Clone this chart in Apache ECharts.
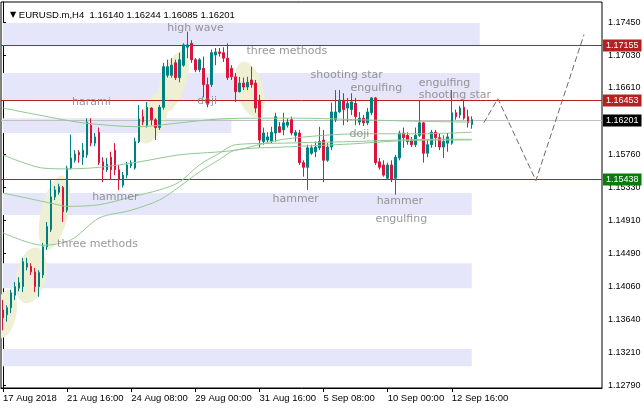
<!DOCTYPE html>
<html><head><meta charset="utf-8">
<script src="https://cdn.jsdelivr.net/npm/echarts@6/dist/echarts.min.js"></script>
<style>html,body{margin:0;padding:0;background:#fff}#c{width:644px;height:409px}</style>
</head><body><div id="c"></div>
<script>
// ---------- data ----------
const symbolName = 'EURUSD.m,H4';
const lastOHLC = ['1.16140', '1.16244', '1.16085', '1.16201'];
// [open, close, low, high] per H4 bar
const candles = [
[1.1376,1.1366,1.1350,1.1389],[1.1370,1.1379,1.1361,1.1382],[1.1379,1.1398,1.1372,1.1402],[1.1395,1.1406,1.1389,1.1412],
[1.1404,1.1411,1.1400,1.1418],[1.1406,1.1438,1.1399,1.1443],[1.1431,1.1436,1.1427,1.1443],[1.1432,1.1425,1.1421,1.1436],
[1.1425,1.1406,1.1399,1.1430],[1.1406,1.1424,1.1393,1.1427],[1.1421,1.1457,1.1417,1.1462],[1.1457,1.1483,1.1453,1.1489],
[1.1479,1.1521,1.1476,1.1543],[1.1521,1.1530,1.1517,1.1535],[1.1527,1.1534,1.1524,1.1538],[1.1533,1.1502,1.1489,1.1535],
[1.1504,1.1558,1.1501,1.1561],[1.1558,1.1571,1.1556,1.1601],[1.1568,1.1576,1.1565,1.1581],[1.1578,1.1575,1.1565,1.1581],
[1.1572,1.1581,1.1562,1.1590],[1.1575,1.1617,1.1571,1.1622],[1.1613,1.1590,1.1586,1.1622],[1.1590,1.1598,1.1586,1.1603],
[1.1604,1.1565,1.1562,1.1610],[1.1566,1.1556,1.1540,1.1572],[1.1556,1.1563,1.1553,1.1571],[1.1572,1.1556,1.1543,1.1579],
[1.1581,1.1556,1.1549,1.1590],[1.1556,1.1543,1.1530,1.1562],[1.1536,1.1549,1.1533,1.1553],[1.1549,1.1562,1.1545,1.1566],
[1.1561,1.1565,1.1558,1.1568],[1.1558,1.1592,1.1556,1.1597],[1.1592,1.1621,1.1590,1.1639],[1.1624,1.1617,1.1613,1.1633],
[1.1613,1.1636,1.1610,1.1643],[1.1635,1.1620,1.1613,1.1636],[1.1620,1.1610,1.1594,1.1622],[1.1610,1.1636,1.1607,1.1639],
[1.1636,1.1688,1.1633,1.1693],[1.1677,1.1688,1.1674,1.1697],[1.1677,1.1690,1.1674,1.1699],[1.1693,1.1674,1.1671,1.1697],
[1.1674,1.1697,1.1668,1.1706],[1.1690,1.1716,1.1688,1.1718],[1.1713,1.1716,1.1699,1.1733],[1.1718,1.1697,1.1693,1.1722],
[1.1697,1.1684,1.1681,1.1699],[1.1684,1.1697,1.1681,1.1699],[1.1686,1.1665,1.1649,1.1701],[1.1665,1.1640,1.1636,1.1674],
[1.1665,1.1706,1.1662,1.1710],[1.1703,1.1707,1.1690,1.1712],[1.1707,1.1705,1.1701,1.1712],[1.1706,1.1699,1.1694,1.1713],
[1.1699,1.1674,1.1671,1.1718],[1.1686,1.1675,1.1671,1.1690],[1.1675,1.1656,1.1643,1.1680],[1.1656,1.1667,1.1655,1.1675],
[1.1667,1.1662,1.1658,1.1674],[1.1662,1.1668,1.1658,1.1675],[1.1671,1.1665,1.1661,1.1688],[1.1667,1.1635,1.1629,1.1671],
[1.1645,1.1594,1.1584,1.1652],[1.1592,1.1603,1.1588,1.1610],[1.1594,1.1598,1.1590,1.1604],[1.1592,1.1604,1.1590,1.1611],
[1.1603,1.1624,1.1592,1.1629],[1.1611,1.1604,1.1603,1.1617],[1.1607,1.1616,1.1600,1.1629],[1.1613,1.1617,1.1610,1.1622],
[1.1620,1.1603,1.1600,1.1624],[1.1600,1.1604,1.1592,1.1607],[1.1603,1.1565,1.1562,1.1607],[1.1565,1.1559,1.1547,1.1568],
[1.1559,1.1584,1.1530,1.1588],[1.1577,1.1584,1.1575,1.1588],[1.1579,1.1585,1.1572,1.1592],[1.1584,1.1592,1.1581,1.1611],
[1.1594,1.1568,1.1540,1.1607],[1.1568,1.1585,1.1566,1.1590],[1.1585,1.1630,1.1581,1.1642],[1.1620,1.1630,1.1617,1.1658],
[1.1630,1.1645,1.1629,1.1658],[1.1645,1.1633,1.1613,1.1654],[1.1635,1.1641,1.1617,1.1648],[1.1633,1.1643,1.1626,1.1654],
[1.1641,1.1624,1.1613,1.1648],[1.1617,1.1622,1.1613,1.1630],[1.1622,1.1616,1.1612,1.1626],[1.1616,1.1630,1.1613,1.1635],
[1.1629,1.1648,1.1626,1.1649],[1.1648,1.1565,1.1562,1.1649],[1.1566,1.1559,1.1556,1.1571],[1.1562,1.1549,1.1547,1.1568],
[1.1545,1.1562,1.1543,1.1565],[1.1562,1.1543,1.1540,1.1568],[1.1545,1.1572,1.1524,1.1575],[1.1571,1.1603,1.1568,1.1606],
[1.1603,1.1597,1.1584,1.1610],[1.1600,1.1592,1.1588,1.1604],[1.1594,1.1588,1.1585,1.1598],[1.1588,1.1600,1.1585,1.1610],
[1.1600,1.1616,1.1598,1.1645],[1.1616,1.1577,1.1565,1.1617],[1.1577,1.1588,1.1572,1.1594],[1.1588,1.1604,1.1584,1.1607],
[1.1604,1.1597,1.1585,1.1607],[1.1597,1.1585,1.1581,1.1603],[1.1585,1.1592,1.1571,1.1600],[1.1590,1.1598,1.1579,1.1603],
[1.1590,1.1629,1.1588,1.1658],[1.1629,1.1624,1.1620,1.1633],[1.1626,1.1635,1.1622,1.1638],[1.1636,1.1622,1.1620,1.1645],
[1.1624,1.1616,1.1610,1.1633],[1.16140,1.16201,1.16085,1.16244]
];
const timeLabels = ['17 Aug 2018','21 Aug 16:00','24 Aug 08:00','29 Aug 00:00','31 Aug 16:00','5 Sep 08:00','10 Sep 00:00','12 Sep 16:00'];
const barsPerLabel = 16;
const totalSlots = 150;
const priceTicks = [1.12790,1.13210,1.13640,1.14060,1.14490,1.14910,1.15330,1.15760,1.16610,1.17030,1.17450];
const priceMin = 1.12760, priceMax = 1.17710;
const resistanceLevels = [1.17155, 1.16453];
const supportLevels = [1.15438];
const bidPrice = 1.16201;
// moving averages: [bar, price]
const maSlow = [[0,1.1635],[10,1.1625],[20,1.1616],[34,1.1611],[44,1.1616],[54,1.1621],[64,1.1622],[74,1.1622],[89,1.1620],[104,1.1618],[117,1.1617]];
const maMid = [[0,1.1575],[10,1.1558],[16,1.1557],[24,1.1559],[34,1.1566],[44,1.1575],[58,1.1581],[70,1.1595],[90,1.1602],[104,1.1602],[117,1.1604]];
const maFast = [[0,1.1526],[12,1.1513],[16,1.1509],[24,1.1511],[32,1.1521],[39,1.1530],[44,1.1540],[49,1.1562],[54,1.1577],[58,1.1588],[70,1.1590],[87,1.1592],[99,1.1594],[109,1.1595],[117,1.1595]];
const maFastest = [[0,1.1475],[10,1.1459],[17,1.1466],[24,1.1494],[32,1.1504],[39,1.1517],[44,1.1534],[49,1.1553],[54,1.1569],[58,1.1581],[70,1.1585],[87,1.1589],[99,1.1593],[109,1.1594],[117,1.1594]];
// supply/demand zones: [fromBar, toBar, topPrice, bottomPrice]
const zones = [[0,119,1.1744,1.1716],[0,119,1.1680,1.1645],[0,57,1.1622,1.1603],[0,117,1.1526,1.1498],[0,117,1.1436,1.1404],[0,117,1.1326,1.1304]];
// highlighted patterns: ellipse axis ends [bar1, price1, bar2, price2, minor/major]
const ellipses = [[1.75,1.1402,-0.75,1.1340,0.45],[8.5,1.1456,5.5,1.1385,0.52],[15,1.1548,10.75,1.1453,0.36],[40,1.1656,35,1.1590,0.45],[45,1.1707,40,1.1630,0.4],[59.75,1.1694,63.5,1.1624,0.47]];
// pattern annotations
const annoText = ['high wave','three methods','harami','doji','shooting star','engulfing','engulfing','shooting star','doji','hammer','three methods','hammer','hammer','engulfing'];
const annoBar = [41,60.75,17.25,48.5,76.75,86.75,103.75,103.75,86.5,22.25,13.5,67.25,93.25,93];
const annoPrice = [1.1738,1.1708,1.1642,1.1644,1.1677,1.1660,1.1667,1.1651,1.1602,1.1521,1.1461,1.1518,1.1516,1.1493];
// projected path
const projBar = [120,123.5,133,145];
const projPrice = [1.1616,1.1647,1.1542,1.1729];

// ---------- chart ----------
const chart = echarts.init(document.getElementById('c'), null, {renderer: 'canvas'});
const cats = Array.from({length: totalSlots}, (_, i) => String(i));
const FONT = 'Liberation Sans';
const maStyle = c => ({type: 'line', xAxisIndex: 1, yAxisIndex: 0, smooth: 0.3, showSymbol: false, silent: true, z: 6,
  lineStyle: {color: c, width: 1}});
// horizontal price level with crisp 1px line and right-hand price tag
const levelSeries = (v, lineColor, tagColor) => ({
  type: 'custom', xAxisIndex: 1, yAxisIndex: 0, silent: true, z: 3, clip: false,
  data: [[0, v]],
  renderItem: (params, api) => {
    const cs = params.coordSys;
    const y = Math.round(api.coord([0, api.value(1)])[1]) + 0.5;
    return {type: 'group', children: [
      {type: 'line', shape: {x1: cs.x, y1: y, x2: cs.x + cs.width, y2: y}, style: {stroke: lineColor, lineWidth: 1}},
      {type: 'text', x: cs.x + cs.width + 1, y: y, style: {text: api.value(1).toFixed(5), fill: '#fff', backgroundColor: tagColor,
        padding: [2, 3, 1, 3], font: '9px "Liberation Sans"', align: 'left', verticalAlign: 'middle'}}
    ]};
  }
});

const option = {
  animation: false,
  backgroundColor: '#ffffff',
  title: {
    left: 5, top: 5,
    text: '{tri|▼} ' + symbolName + '  ' + lastOHLC.join(' '),
    textStyle: {fontFamily: FONT, fontSize: 9.5, fontWeight: 'normal', color: '#000',
      rich: {tri: {fontFamily: 'DejaVu Sans', fontSize: 8, color: '#000'}}}
  },
  grid: {left: 1, right: 42, top: 2, bottom: 21, show: true, borderColor: '#000', borderWidth: 1, backgroundColor: 'transparent'},
  xAxis: [{
    type: 'category', data: cats, boundaryGap: true,
    axisLine: {show: true, lineStyle: {color: '#000', width: 1}},
    axisTick: {show: true, alignWithLabel: true, length: 4, interval: i => i % barsPerLabel === 0 && i / barsPerLabel < timeLabels.length, lineStyle: {color: '#000'}},
    axisLabel: {show: true, interval: i => i % barsPerLabel === 0 && i / barsPerLabel < timeLabels.length, align: 'left', margin: 5,
      fontFamily: FONT, fontSize: 9.5, color: '#000', formatter: (v, i) => timeLabels[i / barsPerLabel] || ''},
    splitLine: {show: false}
  }, {
    type: 'value', min: -0.5, max: totalSlots - 0.5, show: false
  }],
  yAxis: [{
    type: 'value', position: 'right', min: priceMin, max: priceMax, scale: true,
    axisLine: {show: true, lineStyle: {color: '#000'}},
    axisTick: {show: true, length: 3, inside: false, customValues: priceTicks, lineStyle: {color: '#000'}},
    axisLabel: {show: true, customValues: priceTicks, margin: 6, fontFamily: FONT, fontSize: 9, color: '#000', formatter: v => v.toFixed(5)},
    splitLine: {show: false}
  }],
  series: [
    {
      type: 'custom', name: 'zones', xAxisIndex: 1, yAxisIndex: 0, silent: true, z: 1, clip: true,
      data: zones,
      renderItem: (params, api) => {
        const a = api.coord([api.value(0), api.value(2)]);
        const b = api.coord([api.value(1), api.value(3)]);
        return {type: 'rect', shape: {x: a[0], y: a[1], width: b[0] - a[0], height: b[1] - a[1]}, style: {fill: '#e6e6fa'}};
      }
    },
    {
      type: 'custom', name: 'patterns', xAxisIndex: 1, yAxisIndex: 0, silent: true, z: 2, clip: true,
      data: ellipses,
      renderItem: (params, api) => {
        const a = api.coord([api.value(0), api.value(1)]);
        const b = api.coord([api.value(2), api.value(3)]);
        const ratio = api.value(4);
        const cx = (a[0] + b[0]) / 2, cy = (a[1] + b[1]) / 2;
        const dx = b[0] - a[0], dy = b[1] - a[1];
        const L = Math.hypot(dx, dy) / 2;
        const ux = dx / (2 * L), uy = dy / (2 * L);
        const nx = -uy, ny = ux, r = L * ratio;
        const pts = [];
        for (let k = 0; k < 60; k++) {
          const t = k / 60 * Math.PI * 2;
          pts.push([cx + L * Math.cos(t) * ux + r * Math.sin(t) * nx, cy + L * Math.cos(t) * uy + r * Math.sin(t) * ny]);
        }
        return {type: 'polygon', shape: {points: pts}, style: {fill: '#efefd3'}};
      }
    },
    ...resistanceLevels.map(v => levelSeries(v, '#b22222', '#b22222')),
    ...supportLevels.map(v => levelSeries(v, '#0a7a0a', '#0a7a0a')),
    levelSeries(bidPrice, '#c0c0c0', '#000000'),
    {
      type: 'candlestick', name: 'EURUSD', xAxisIndex: 0, yAxisIndex: 0, z: 5, barWidth: 2, silent: true,
      data: candles,
      itemStyle: {color: '#008080', color0: '#dc143c', borderColor: '#008080', borderColor0: '#dc143c', borderWidth: 1}
    },
    Object.assign(maStyle('#93c893'), {name: 'MA slow', data: maSlow}),
    Object.assign(maStyle('#93c893'), {name: 'MA mid', data: maMid}),
    Object.assign(maStyle('#93c893'), {name: 'MA fast', data: maFast}),
    Object.assign(maStyle('#93c893'), {name: 'MA fastest', data: maFastest}),
    {
      type: 'line', name: 'projection', xAxisIndex: 1, yAxisIndex: 0, showSymbol: false, silent: true, z: 6,
      data: projBar.map((b, i) => [b, projPrice[i]]),
      lineStyle: {color: '#6a6a6a', width: 1, type: [6, 3]}
    },
    {
      type: 'scatter', name: 'annotations', xAxisIndex: 1, yAxisIndex: 0, symbolSize: 0, silent: true, z: 8,
      data: annoText.map((t, i) => ({name: t, value: [annoBar[i], annoPrice[i]]})),
      label: {show: true, position: [0, 0], align: 'left', verticalAlign: 'middle', formatter: p => p.name,
        fontFamily: 'DejaVu Sans', fontSize: 11, color: '#7d7d7d'}
    }
  ]
};
chart.setOption(option);
</script>
</body></html>
